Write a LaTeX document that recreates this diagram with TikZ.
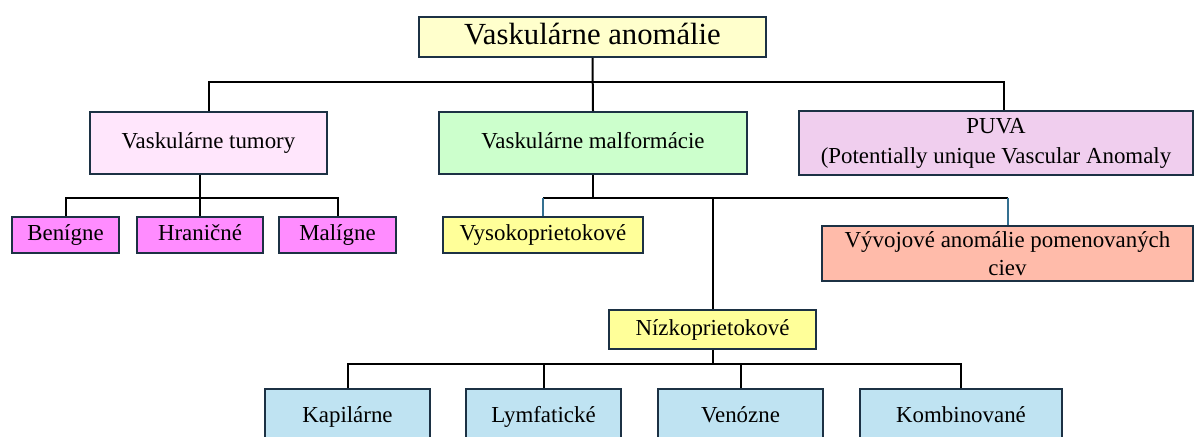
\documentclass[tikz,border=0pt]{standalone}
\usepackage{fontspec}
\setmainfont{Liberation Serif}
\usepackage{xcolor}
\usepackage{tikz}
\usetikzlibrary{positioning}

\definecolor{boxline}{RGB}{28,49,68}
\definecolor{topfill}{RGB}{255,255,204}
\definecolor{tumfill}{RGB}{255,230,252}
\definecolor{subfill}{RGB}{255,140,255}
\definecolor{malfill}{RGB}{204,255,204}
\definecolor{puvafill}{RGB}{240,206,238}
\definecolor{flowfill}{RGB}{255,255,153}
\definecolor{vyvfill}{RGB}{255,187,170}
\definecolor{lowfill}{RGB}{191,227,242}
\definecolor{tealline}{RGB}{52,112,145}

\tikzset{
  box/.style={draw=boxline,line width=1.8bp,inner sep=0pt,align=center,
    font=\fontsize{22.9bp}{28bp}\selectfont},
  tag/.style={box,text height=16.5bp,text depth=5bp},
  link/.style={line width=2bp}
}

\begin{document}
\begin{tikzpicture}[x=1bp,y=-1bp]
\useasboundingbox (0,0) rectangle (1195,437);
% boxes
\node[tag,fill=topfill,minimum width=347bp,minimum height=40bp,text height=22bp,text depth=6.5bp,
  font=\fontsize{30.7bp}{34bp}\selectfont](top) at (592.5,37){Vaskulárne anomálie};
\node[tag,fill=tumfill,minimum width=237bp,minimum height=62bp](tum) at (208.5,143){Vaskulárne tumory};
\node[tag,fill=malfill,minimum width=308bp,minimum height=62bp](mal) at (593,143){Vaskulárne malformácie};
\node[box,fill=puvafill,minimum width=394bp,minimum height=64bp,
  font=\fontsize{22.9bp}{30bp}\selectfont](puva) at (996,143){PUVA\\(Potentially unique Vascular Anomaly};
\node[tag,fill=subfill,minimum width=107bp,minimum height=36bp](ben) at (65.5,235){Benígne};
\node[tag,fill=subfill,minimum width=126bp,minimum height=36bp](hra) at (200,235){Hraničné};
\node[tag,fill=subfill,minimum width=117bp,minimum height=36bp](mali) at (337.5,235){Malígne};
\node[tag,fill=flowfill,minimum width=200bp,minimum height=36bp](vys) at (543,235){Vysokoprietokové};
\node[box,fill=vyvfill,minimum width=371bp,minimum height=55bp](vyv) at (1007.5,253.5){Vývojové anomálie pomenovaných\\ciev};
\node[tag,fill=flowfill,minimum width=207bp,minimum height=39bp](niz) at (712.5,329.5){Nízkoprietokové};
\node[tag,fill=lowfill,minimum width=165bp,minimum height=56bp](kap) at (347.5,417){Kapilárne};
\node[tag,fill=lowfill,minimum width=155bp,minimum height=56bp](lym) at (543.5,417){Lymfatické};
\node[tag,fill=lowfill,minimum width=165bp,minimum height=56bp](ven) at (740.5,417){Venózne};
\node[tag,fill=lowfill,minimum width=202bp,minimum height=56bp](kom) at (961,417){Kombinované};

% junctions
\coordinate (j0) at (592.5,82);
\coordinate (j1) at (200,198);
\coordinate (j2) at (593,198);
\coordinate (j3) at (712.5,364);

% connectors
\draw[link](top.south)--(mal.north);
\draw[link](tum.north)|-(j0)-|([xshift=8bp]puva.north);
\draw[link](hra.north|-tum.south)--(hra.north);
\draw[link](ben.north)|-(j1)-|(mali.north);
\draw[link](mal.south)--(j2);
\draw[link](vys.north|-j2)--(vyv.north|-j2);
\draw[link,tealline](vys.north|-j2)--(vys.north);
\draw[link,tealline](vyv.north|-j2)--(vyv.north);
\draw[link](niz.north|-j2)--(niz.north);
\draw[link](niz.south)--(j3);
\draw[link](kap.north)|-(j3)-|(kom.north);
\draw[link](lym.north|-j3)--(lym.north);
\draw[link](ven.north|-j3)--(ven.north);
\end{tikzpicture}
\end{document}
